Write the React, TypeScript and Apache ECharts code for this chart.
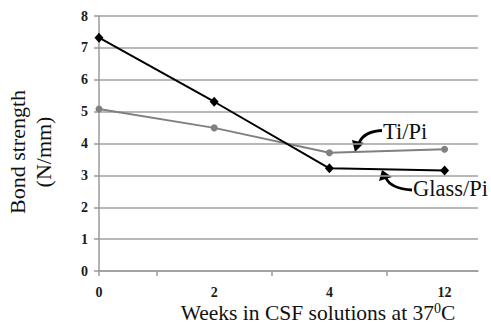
import React, { useEffect, useRef } from "react";
import * as echarts from "echarts";

const weeks = ["0", "2", "4", "12"];
const tiPi = [5.08, 4.49, 3.71, 3.82];
const glassPi = [7.32, 5.31, 3.22, 3.15];
const yTicks = [0, 1, 2, 3, 4, 5, 6, 7, 8];

const SERIF = "Liberation Serif";
const labelRich = { b: { fontFamily: SERIF, fontWeight: "bold", fontSize: 14, color: "#1a1a1a" } };

export default function App() {
  const ref = useRef<HTMLDivElement>(null);
  useEffect(() => {
    if (!ref.current) return;
    const chart = echarts.init(ref.current, null, { renderer: "svg" });
    const arrowStyle = { stroke: "#000", lineWidth: 2.8, fill: "none" };
    chart.setOption({
      animation: false,
      backgroundColor: "#fff",
      grid: { left: 99, right: 13, top: 16, bottom: 59, containLabel: false, outerBoundsMode: "none" },
      xAxis: {
        type: "value",
        min: 0,
        max: 3.29,
        axisLine: { show: true, lineStyle: { color: "#9a9a9a", width: 1.5 } },
        splitLine: { show: false },
        axisTick: { show: true, customValues: [0, 0.5, 1.5, 2.5], length: 5, lineStyle: { color: "#9a9a9a", width: 1.5 } },
        axisLabel: {
          customValues: [0, 1, 2, 3],
          formatter: (v: number) => `{b|${weeks[Math.round(v)] ?? ""}}`,
          rich: labelRich,
          fontFamily: SERIF,
          fontWeight: "bold",
          fontSize: 14,
          margin: 14,
        },
      },
      yAxis: {
        type: "value",
        min: yTicks[0],
        max: yTicks[yTicks.length - 1],
        interval: 1,
        axisLine: { show: true, lineStyle: { color: "#9a9a9a", width: 1.5 } },
        axisTick: { show: true, length: 5, lineStyle: { color: "#9a9a9a", width: 1.5 } },
        splitLine: { show: true, lineStyle: { color: "#a0a0a0", width: 1.5 } },
        axisLabel: {
          formatter: (v: number) => `{b|${v}}`,
          rich: labelRich,
          fontFamily: SERIF,
          fontWeight: "bold",
          fontSize: 14,
          margin: 11,
        },
      },
      series: [
        {
          name: "Ti/Pi",
          type: "line",
          data: tiPi.map((v, i) => [i, v]),
          symbol: "circle",
          symbolSize: 7,
          lineStyle: { color: "#808080", width: 2 },
          itemStyle: { color: "#808080" },
        },
        {
          name: "Glass/Pi",
          type: "line",
          data: glassPi.map((v, i) => [i, v]),
          symbol: "diamond",
          symbolSize: [9, 10],
          lineStyle: { color: "#000", width: 2 },
          itemStyle: { color: "#000" },
        },
      ],
      graphic: [
        {
          type: "text",
          x: 30,
          y: 152,
          rotation: Math.PI / 2,
          style: {
            text: "Bond strength\n(N/mm)",
            font: `22px ${SERIF}`,
            fill: "#111",
            align: "center",
            verticalAlign: "middle",
            lineHeight: 26,
          },
        },
        {
          type: "text",
          x: 318,
          y: 313,
          style: {
            text: "Weeks in CSF solutions at 37{sup|0}C",
            font: `21.5px ${SERIF}`,
            fill: "#111",
            align: "center",
            verticalAlign: "middle",
            rich: { sup: { fontSize: 14, verticalAlign: "top", padding: [0, 0, 10, 0], fontFamily: SERIF, fill: "#111" } },
          },
        },
        {
          type: "text",
          x: 383,
          y: 131,
          style: { text: "Ti/Pi", font: `22.5px ${SERIF}`, fill: "#111", align: "left", verticalAlign: "middle" },
        },
        {
          type: "text",
          x: 413,
          y: 188,
          style: { text: "Glass/Pi", font: `22.5px ${SERIF}`, fill: "#111", align: "left", verticalAlign: "middle" },
        },
        {
          type: "bezierCurve",
          shape: { x1: 382, y1: 130.5, x2: 359, y2: 143, cpx1: 370, cpy1: 131, cpx2: 362, cpy2: 136 },
          style: arrowStyle,
        },
        {
          type: "polygon",
          shape: { points: [[352, 140], [364, 143], [355, 152]] },
          style: { fill: "#000" },
        },
        {
          type: "bezierCurve",
          shape: { x1: 412, y1: 190, x2: 386, y2: 178, cpx1: 398, cpy1: 189, cpx2: 389, cpy2: 185 },
          style: arrowStyle,
        },
        {
          type: "polygon",
          shape: { points: [[379, 181], [392, 177], [382, 170]] },
          style: { fill: "#000" },
        },
      ],
    });
    return () => chart.dispose();
  }, []);
  return <div ref={ref} style={{ position: "fixed", left: 0, top: 0, width: 491, height: 330 }} />;
}
